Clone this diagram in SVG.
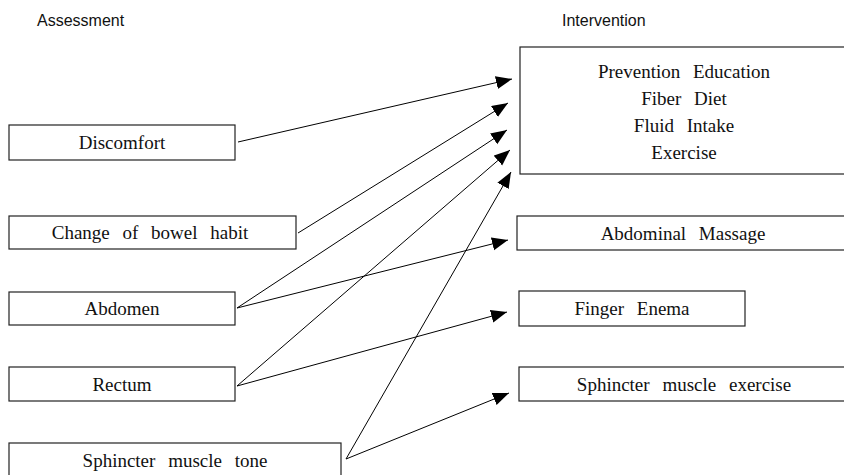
<svg xmlns="http://www.w3.org/2000/svg" width="844" height="475" viewBox="0 0 844 475">
<style>
.hdr{font-family:"Liberation Sans",Arial,sans-serif;font-size:16px;fill:#111}
.box{fill:#fff;stroke:#222;stroke-width:1.2}
.t{font-family:"Liberation Serif","Times New Roman",serif;font-size:19px;fill:#111;text-anchor:middle;word-spacing:8px}
.c{fill:none;stroke:#000;stroke-width:1;marker-end:url(#ah)}
</style>
<defs>
<marker id="ah" markerUnits="userSpaceOnUse" markerWidth="17" markerHeight="14" refX="16" refY="6.5" orient="auto">
<path d="M0,0 L16,6.5 L0,13 z" fill="#000"/>
</marker>
</defs>
<rect width="844" height="475" fill="#fff"/>
<text class="hdr" x="37" y="26">Assessment</text>
<text class="hdr" x="562" y="26">Intervention</text>

<g id="discomfort"><rect class="box" x="9" y="125" width="226" height="35"/><text class="t" x="122" y="149">Discomfort</text></g>
<g id="bowel"><rect class="box" x="9" y="216" width="287" height="33"/><text class="t" x="150" y="239">Change of bowel habit</text></g>
<g id="abdomen"><rect class="box" x="9" y="292" width="226" height="33"/><text class="t" x="122" y="315">Abdomen</text></g>
<g id="rectum"><rect class="box" x="9" y="367" width="226" height="34"/><text class="t" x="122" y="390.5">Rectum</text></g>
<g id="sphincter-tone"><rect class="box" x="9" y="443" width="332" height="35"/><text class="t" x="175" y="467">Sphincter muscle tone</text></g>

<g id="prevention"><rect class="box" x="520" y="47" width="328" height="127"/>
<text class="t" x="684" y="78">Prevention Education</text>
<text class="t" x="684" y="104.5">Fiber Diet</text>
<text class="t" x="684" y="131.5">Fluid Intake</text>
<text class="t" x="684" y="158.5">Exercise</text></g>
<g id="massage"><rect class="box" x="517" y="216" width="331" height="34"/><text class="t" x="683" y="239.5">Abdominal Massage</text></g>
<g id="enema"><rect class="box" x="519" y="291" width="226" height="35"/><text class="t" x="632" y="315">Finger Enema</text></g>
<g id="sphincter-ex"><rect class="box" x="519" y="367" width="329" height="34"/><text class="t" x="684" y="390.5">Sphincter muscle exercise</text></g>

<g id="connectors">
<line class="c" x1="238" y1="142" x2="512" y2="79"/>
<line class="c" x1="298" y1="233" x2="508" y2="103"/>
<line class="c" x1="237" y1="308" x2="507" y2="130"/>
<line class="c" x1="237" y1="308" x2="508" y2="240"/>
<line class="c" x1="237" y1="386" x2="510" y2="150"/>
<line class="c" x1="237" y1="386" x2="507" y2="312"/>
<line class="c" x1="346" y1="459" x2="511" y2="172"/>
<line class="c" x1="346" y1="459" x2="509" y2="393"/>
</g>
</svg>
